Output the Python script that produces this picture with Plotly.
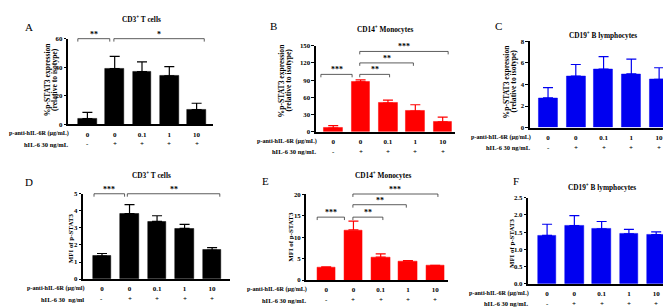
import plotly.graph_objects as go

W, H = 671, 307
FONT = "Liberation Serif"

# ---------------- data ----------------
positions = [0, 1, 2, 3, 4]
dose_labels = ["0", "0", "0.1", "1", "10"]
il6_labels = ["-", "+", "+", "+", "+"]

A_mean = [4.0, 39.0, 37.0, 34.0, 10.3]
A_err = [4.4, 8.6, 6.8, 6.4, 4.5]
B_mean = [6.5, 87.0, 50.0, 36.0, 17.0]
B_err = [4.0, 3.5, 5.0, 11.0, 8.5]
C_mean = [2.75, 4.77, 5.42, 4.98, 4.47]
C_err = [0.95, 1.08, 1.16, 1.36, 1.08]
D_mean = [1.35, 3.83, 3.38, 2.97, 1.69]
D_err = [0.15, 0.53, 0.33, 0.24, 0.15]
E_mean = [2.95, 11.7, 5.35, 4.42, 3.35]
E_err = [0.15, 2.05, 0.75, 0.13, 0.07]
F_mean = [1.41, 1.69, 1.60, 1.45, 1.43]
F_err = [0.32, 0.29, 0.21, 0.13, 0.08]

# significance brackets: (stars, x start, x end, level)
A_sig = [("**", -0.35, 0.82, 60), ("*", 0.97, 4.28, 60)]
B_sig = [("***", -0.45, 0.69, 100), ("**", 0.97, 2.06, 100),
         ("**", 0.97, 2.93, 120), ("***", 0.97, 4.2, 140)]
C_sig = []
D_sig = [("***", -0.29, 0.82, 5), ("**", 0.92, 4.28, 5)]
E_sig = [("***", -0.33, 0.67, 14.7), ("**", 0.98, 2.08, 14.7),
         ("**", 0.98, 2.94, 17.6), ("***", 0.98, 4.1, 20.1)]
F_sig = []

pct_title = ["%p-STAT3 expression", "(relative to isotype)"]
mfi_title = ["MFI of p-STAT3"]

panels = [
    dict(letter="A", mean=A_mean, err=A_err, color="#000000", ymax=60, dtick=20, fmt="",
         title="CD3<sup>+</sup> T cells", ytitle=pct_title, sig=A_sig,
         rows=("p-anti-hIL-6R (μg/mL)", "hIL-6 30 ng/mL"),
         g=dict(l=60, r=205, b=115, t=27.3, xr=[-0.71, 4.6]), tpos=(133, 7), lpos=(21, 15),
         ypos=([39.8, 46.6], 69)),
    dict(letter="B", mean=B_mean, err=B_err, color="#ff0000", ymax=150, dtick=30, fmt="",
         title="CD14<sup>+</sup> Monocytes", ytitle=pct_title, sig=B_sig,
         rows=("p-anti-hIL-6R (μg/mL)", "hIL-6 30 ng/mL"),
         g=dict(l=307.7, r=447, b=122.5, t=34.5, xr=[-0.64, 4.45]), tpos=(377, 17), lpos=(265, 14),
         ypos=([273, 280], 70)),
    dict(letter="C", mean=C_mean, err=C_err, color="#0000f0", ymax=8, dtick=2, fmt="",
         title="CD19<sup>+</sup> B lymphocytes", ytitle=pct_title, sig=C_sig,
         rows=("p-anti-hIL-6R (μg/mL)", "hIL-6 30 ng/mL"),
         g=dict(l=521.7, r=670, b=118.3, t=30, xr=[-0.66, 4.68]), tpos=(595, 24), lpos=(490, 14),
         ypos=([498, 505], 71)),
    dict(letter="D", mean=D_mean, err=D_err, color="#000000", ymax=5, dtick=1, fmt="",
         title="CD3<sup>+</sup> T cells", ytitle=mfi_title, sig=D_sig,
         rows=("p-anti-hIL-6R (μg/ml)", "hIL-6 30  ng/ml"),
         g=dict(l=75, r=222, b=273.3, t=186, xr=[-0.69, 4.65]), tpos=(143, 167), lpos=(21, 174),
         ypos=([62.5], 232)),
    dict(letter="E", mean=E_mean, err=E_err, color="#ff0000", ymax=20, dtick=5, fmt="",
         title="CD14<sup>+</sup> Monocytes", ytitle=mfi_title, sig=E_sig,
         rows=("p-anti-hIL-6R (μg/mL)", "hIL-6 30 ng/mL"),
         g=dict(l=298.3, r=440, b=274.3, t=186.7, xr=[-0.73, 4.47]), tpos=(375, 167), lpos=(257, 173),
         ypos=([283], 230)),
    dict(letter="F", mean=F_mean, err=F_err, color="#0000f0", ymax=2.5, dtick=0.5, fmt=".1f",
         title="CD19<sup>+</sup> B lymphocytes", ytitle=mfi_title, sig=F_sig,
         rows=("p-anti-hIL-6R (μg/mL)", "hIL-6 30 ng/mL"),
         g=dict(l=520, r=670, b=278.3, t=190, xr=[-0.70, 4.80]), tpos=(594, 179), lpos=(508, 173),
         ypos=([503.5], 237)),
]

fig = go.Figure()
annotations = []
shapes = []
layout = {}

bold = dict(family=FONT, color="black", weight="bold")

for i, p in enumerate(panels):
    sfx = "" if i == 0 else str(i + 1)
    xa, ya = "x" + sfx, "y" + sfx
    g = p["g"]
    plot_h = g["b"] - g["t"]

    fig.add_trace(go.Bar(
        x=positions, y=p["mean"], width=0.68, xaxis=xa, yaxis=ya,
        marker=dict(color=p["color"], line=dict(color=p["color"], width=0.5)),
        error_y=dict(type="data", symmetric=False, array=p["err"],
                     arrayminus=[0] * len(p["err"]), color=p["color"],
                     thickness=1.2, width=5),
        showlegend=False, hoverinfo="skip"))

    layout["xaxis" + sfx] = dict(
        domain=[g["l"] / W, g["r"] / W], anchor=ya, range=g["xr"],
        tickvals=positions, ticktext=dose_labels, ticks="", showline=True,
        linecolor="black", linewidth=1.5, showgrid=False, zeroline=False,
        tickfont=dict(size=7, **bold), ticklabelstandoff=2, fixedrange=True)
    layout["yaxis" + sfx] = dict(
        domain=[1 - g["b"] / H, 1 - g["t"] / H], anchor=xa, range=[0, p["ymax"]],
        dtick=p["dtick"], tick0=0, tickformat=p["fmt"], ticks="outside", ticklen=2.5,
        tickwidth=1, tickcolor="black", showline=True, linecolor="black",
        linewidth=1.5, showgrid=False, zeroline=False,
        tickfont=dict(size=6.8, **bold), fixedrange=True)

    # y-axis title lines (tight leading as in the reference)
    xs, yc = p["ypos"]
    tsize = 7.6 if len(xs) == 2 else 6.9
    for xline, txt in zip(xs, p["ytitle"]):
        annotations.append(dict(
            xref="paper", yref="paper", x=xline / W, y=1 - yc / H,
            xanchor="center", yanchor="middle", textangle=-90, text=txt,
            showarrow=False, font=dict(size=tsize, **bold)))

    # significance brackets
    tk = 3.0 / plot_h
    for stars, x0, x1, lvl in p["sig"]:
        yv = lvl / p["ymax"]
        shapes.append(dict(
            type="path", xref=xa, yref=ya + " domain",
            path=f"M {x0},{yv - tk} L {x0},{yv} L {x1},{yv} L {x1},{yv - tk}",
            line=dict(color="#333333", width=0.8)))
        annotations.append(dict(
            xref=xa, yref=ya + " domain", x=(x0 + x1) / 2, y=yv, yanchor="bottom",
            yshift=-2, text=stars, showarrow=False, font=dict(size=8, **bold)))

    # second row of x labels
    for xpos, lab in zip(positions, il6_labels):
        annotations.append(dict(
            xref=xa, yref=ya + " domain", x=xpos, y=0, yshift=-20, yanchor="middle",
            text=lab, showarrow=False, font=dict(size=7, **bold)))
    # row titles
    for txt, ys, fs in zip(p["rows"], (-9.5, -20), (6.1, 6.5)):
        annotations.append(dict(
            xref=xa + " domain", yref=ya + " domain", x=0, y=0, xanchor="right",
            xshift=3, yshift=ys, yanchor="middle", text=txt, showarrow=False,
            font=dict(size=fs, **bold)))

    # subplot title
    annotations.append(dict(
        xref="paper", yref="paper", x=p["tpos"][0] / W, y=1 - p["tpos"][1] / H,
        xanchor="center", yanchor="middle", text=p["title"], showarrow=False,
        font=dict(size=7.3, **bold)))
    # panel letter
    annotations.append(dict(
        xref="paper", yref="paper", x=p["lpos"][0] / W, y=1 - p["lpos"][1] / H,
        xanchor="center", yanchor="middle", text=p["letter"], showarrow=False,
        font=dict(size=11, family=FONT, color="black")))

fig.update_layout(
    width=W, height=H, autosize=False,
    margin=dict(l=0, r=0, t=0, b=0),
    paper_bgcolor="white", plot_bgcolor="white",
    bargap=0, showlegend=False,
    annotations=annotations, shapes=shapes,
    font=dict(family=FONT, color="black"),
    **layout)

fig.write_html("out.html")
